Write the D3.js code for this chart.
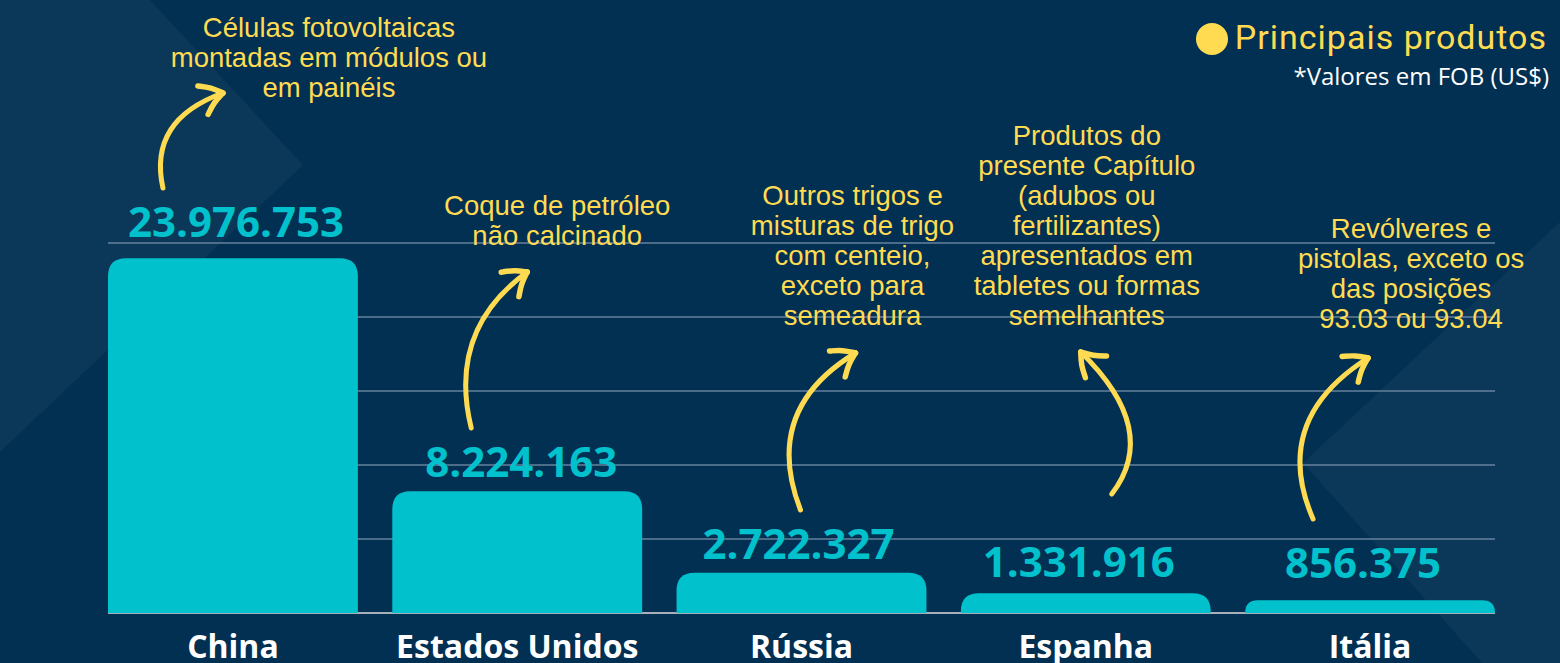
<!DOCTYPE html>
<html>
<head>
<meta charset="utf-8">
<script src="https://cdn.jsdelivr.net/npm/d3@7"></script>
<style>
  html, body { margin: 0; padding: 0; background: #023052; overflow: hidden; }
</style>
</head>
<body>
<div id="chart-area"></div>
<script>
// Data
var countries = ["China", "Estados Unidos", "Rússia", "Espanha", "Itália"];
var values = [23976753, 8224163, 2722327, 1331916, 856375];
var valueLabels = ["23.976.753", "8.224.163", "2.722.327", "1.331.916", "856.375"];
var products = [
  ["Células fotovoltaicas", "montadas em módulos ou", "em painéis"],
  ["Coque de petróleo", "não calcinado"],
  ["Outros trigos e", "misturas de trigo", "com centeio,", "exceto para", "semeadura"],
  ["Produtos do", "presente Capítulo", "(adubos ou", "fertilizantes)", "apresentados em", "tabletes ou formas", "semelhantes"],
  ["Revólveres e", "pistolas, exceto os", "das posições", "93.03 ou 93.04"]
];
var yTicks = [0, 5000000, 10000000, 15000000, 20000000, 25000000];
var legendLabel = "Principais produtos";
var noteLabel = "*Valores em FOB (US$)";

var W = 1560, H = 663;
var navy = "#023052", navyLight = "#0b3758", teal = "#00c1cc", yellow = "#ffdb52";

var svg = d3.select("#chart-area").append("svg")
  .attr("width", W).attr("height", H);

// background shapes
svg.append("rect").attr("width", W).attr("height", H).attr("fill", navy);
svg.append("path")
  .attr("d", "M0,0 L150,0 L303,165 L0,452 Z")
  .attr("fill", navyLight);
svg.append("path")
  .attr("d", "M1560,222 L1303,463 L1482,663 L1560,663 Z")
  .attr("fill", navyLight);

// scales
var x = d3.scaleBand()
  .domain(countries)
  .range([108, 1495])
  .paddingInner(0.121)
  .paddingOuter(0);

var y = d3.scaleLinear()
  .domain([0, 25000000])
  .range([613, 243]);

// gridlines
svg.append("g").attr("class", "grid")
  .selectAll("line")
  .data(yTicks.slice(1))
  .enter().append("line")
  .attr("x1", 108).attr("x2", 1495)
  .attr("y1", d => y(d)).attr("y2", d => y(d))
  .attr("stroke", "#5a7894")
  .attr("stroke-width", 2)
  .attr("opacity", 0.85);

svg.append("line")
  .attr("x1", 108).attr("x2", 1495)
  .attr("y1", y(0)).attr("y2", y(0))
  .attr("stroke", "#a7b0ba")
  .attr("stroke-width", 2);

// bars with rounded top corners
function barPath(x0, w, yTop, yBase) {
  var r = Math.min(18, yBase - yTop);
  return "M" + x0 + "," + yBase +
    " L" + x0 + "," + (yTop + r) +
    " Q" + x0 + "," + yTop + " " + (x0 + r) + "," + yTop +
    " L" + (x0 + w - r) + "," + yTop +
    " Q" + (x0 + w) + "," + yTop + " " + (x0 + w) + "," + (yTop + r) +
    " L" + (x0 + w) + "," + yBase + " Z";
}

var data = countries.map((c, i) => ({ country: c, value: values[i], label: valueLabels[i], product: products[i] }));

svg.append("g").attr("class", "bars")
  .selectAll("path")
  .data(data)
  .enter().append("path")
  .attr("d", d => barPath(x(d.country), x.bandwidth(), y(d.value), y(0)))
  .attr("fill", teal);

// value labels (small hand placed nudges as in the original design)
var labelNudge = [[3, -21], [4, -14], [-3, -14], [-7, -16], [-7, -22]];

svg.append("g").attr("class", "values")
  .selectAll("text")
  .data(data)
  .enter().append("text")
  .attr("x", (d, i) => x(d.country) + x.bandwidth() / 2 + labelNudge[i][0])
  .attr("y", (d, i) => y(d.value) + labelNudge[i][1])
  .attr("text-anchor", "middle")
  .attr("font-family", "'Open Sans', sans-serif")
  .attr("font-weight", 700)
  .attr("font-size", "42px")
  .attr("fill", teal)
  .text(d => d.label);

// category labels
svg.append("g").attr("class", "categories")
  .selectAll("text")
  .data(data)
  .enter().append("text")
  .attr("x", d => x(d.country) + x.bandwidth() / 2)
  .attr("y", 658)
  .attr("text-anchor", "middle")
  .attr("font-family", "'Open Sans', sans-serif")
  .attr("font-weight", 700)
  .attr("font-size", "32px")
  .attr("fill", "#ffffff")
  .text(d => d.country);

// product annotations: text centre offset from bar centre, first baseline
var noteLayout = [
  { dx: 96, top: 37 },
  { dx: 40, top: 215 },
  { dx: 51, top: 205 },
  { dx: 1, top: 145 },
  { dx: 41, top: 238 }
];

var notes = svg.append("g").attr("class", "notes")
  .selectAll("text")
  .data(data)
  .enter().append("text")
  .attr("text-anchor", "middle")
  .attr("font-family", "'Liberation Sans', Arial, sans-serif")
  .attr("font-size", "27.5px")
  .attr("fill", yellow)
  .attr("transform", (d, i) => "translate(" + (x(d.country) + x.bandwidth() / 2 + noteLayout[i].dx) + "," + noteLayout[i].top + ")");

notes.selectAll("tspan")
  .data(d => d.product)
  .enter().append("tspan")
  .attr("x", 0)
  .attr("y", (d, i) => i * 30)
  .text(d => d);

// hand drawn arrows, offsets relative to bar centre
var arrowLayout = [
  { tail: [-70, 188], ctrl: [-85, 120], head: [-10, 93] },
  { tail: [-46, 428], ctrl: [-70, 330], head: [10, 272] },
  { tail: [-1, 510], ctrl: [-40, 410], head: [54, 353] },
  { tail: [26, 494], ctrl: [75, 430], head: [-5, 352] },
  { tail: [-57, 519], ctrl: [-100, 420], head: [-2, 358] }
];

var arrowLine = d3.line().curve(d3.curveBasis);

arrowLayout.forEach(function (a, i) {
  var cx = x(countries[i]) + x.bandwidth() / 2;
  var t = [cx + a.tail[0], a.tail[1]];
  var c = [cx + a.ctrl[0], a.ctrl[1]];
  var h = [cx + a.head[0], a.head[1]];
  var g = svg.append("g").attr("class", "arrow");
  g.append("path")
    .attr("d", "M" + t + " Q" + c + " " + h)
    .attr("fill", "none")
    .attr("stroke", yellow)
    .attr("stroke-width", 5)
    .attr("stroke-linecap", "round");
  // arrowhead along tangent at the head
  var ang = Math.atan2(h[1] - c[1], h[0] - c[0]);
  var len = 26, spread = 0.62;
  [ang + Math.PI - spread, ang + Math.PI + spread].forEach(function (b) {
    var e = [h[0] + len * Math.cos(b), h[1] + len * Math.sin(b)];
    var m = [(h[0] + e[0]) / 2 + 2 * Math.cos(b + Math.PI / 2), (h[1] + e[1]) / 2 + 2 * Math.sin(b + Math.PI / 2)];
    g.append("path")
      .attr("d", arrowLine([h, m, e]))
      .attr("fill", "none")
      .attr("stroke", yellow)
      .attr("stroke-width", 5.5)
      .attr("stroke-linecap", "round");
  });
});

// legend
svg.append("circle")
  .attr("cx", 1212).attr("cy", 39).attr("r", 16)
  .attr("fill", yellow);

svg.append("text")
  .attr("x", 1547).attr("y", 49)
  .attr("text-anchor", "end")
  .attr("font-family", "Roboto, sans-serif")
  .attr("font-size", "34px")
  .attr("letter-spacing", "1px")
  .attr("fill", yellow)
  .text(legendLabel);

svg.append("text")
  .attr("x", 1549).attr("y", 85)
  .attr("text-anchor", "end")
  .attr("font-family", "'Open Sans', sans-serif")
  .attr("font-size", "24px")
  .attr("fill", "#ffffff")
  .text(noteLabel);
</script>
</body>
</html>
